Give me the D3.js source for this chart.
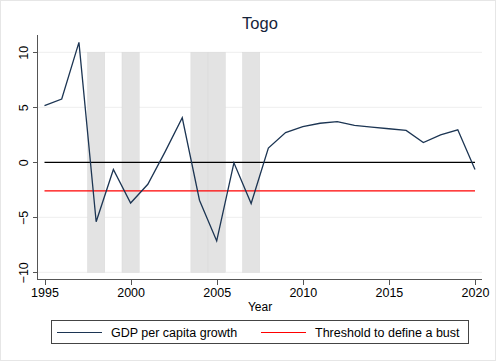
<!DOCTYPE html>
<html>
<head>
<meta charset="utf-8">
<script src="https://cdn.jsdelivr.net/npm/d3@7"></script>
<style>
  body { margin: 0; background: #fff; }
  svg { display: block; font-family: "Liberation Sans", Arial, Helvetica, sans-serif; }
</style>
</head>
<body>
<svg id="chart"></svg>
<script>
(function() {

	// data
	var years = [1995, 1996, 1997, 1998, 1999, 2000, 2001, 2002, 2003, 2004, 2005, 2006, 2007,
		2008, 2009, 2010, 2011, 2012, 2013, 2014, 2015, 2016, 2017, 2018, 2019, 2020];
	var growth = [5.15, 5.75, 10.9, -5.4, -0.65, -3.7, -2.0, 0.95, 4.05, -3.45, -7.15, -0.05, -3.75,
		1.3, 2.7, 3.25, 3.55, 3.7, 3.35, 3.2, 3.05, 2.9, 1.8, 2.5, 2.95, -0.65];
	var threshold = -2.6;
	var bustYears = [1998, 2000, 2004, 2005, 2007];
	var xTicks = [1995, 2000, 2005, 2010, 2015, 2020];
	var yTicks = [-10, -5, 0, 5, 10];

	var W = 496, H = 361;
	var navy = "#1c3553";

	var svg = d3.select("#chart")
		.attr("width", W)
		.attr("height", H);

	// graph region border
	svg.append("rect")
		.attr("x", 0.5).attr("y", 0.5)
		.attr("width", W - 1).attr("height", H - 1)
		.style("fill", "#fff")
		.style("stroke", "#e6e6e6");

	var x = d3.scaleLinear()
		.domain([1995, 2020])
		.range([44.5, 475]);

	var y = d3.scaleLinear()
		.domain([-10, 10])
		.range([272.3, 52.3]);

	var plotLeft = 37, plotRight = 482, plotTop = 35, plotBottom = 279.5;

	// grid lines
	svg.append("g")
		.selectAll("line")
		.data(yTicks.filter(function(d) { return d !== 0; }))
		.enter().append("line")
		.attr("x1", plotLeft).attr("x2", plotRight)
		.attr("y1", function(d) { return y(d); })
		.attr("y2", function(d) { return y(d); })
		.style("stroke", "#eeeeee")
		.style("stroke-width", 1);

	// shaded bust years
	svg.append("g")
		.selectAll("rect")
		.data(bustYears)
		.enter().append("rect")
		.attr("x", function(d) { return x(d - 0.5); })
		.attr("width", function(d) { return x(d + 0.5) - x(d - 0.5); })
		.attr("y", y(10))
		.attr("height", y(-10) - y(10))
		.style("fill", "#e3e3e3")
		.style("stroke", "#dadada")
		.style("stroke-width", 0.5);

	// zero line
	svg.append("line")
		.attr("x1", x(1995)).attr("x2", x(2020))
		.attr("y1", y(0)).attr("y2", y(0))
		.style("stroke", "#000")
		.style("stroke-width", 1.2);

	// threshold
	svg.append("line")
		.attr("x1", x(1995)).attr("x2", x(2020))
		.attr("y1", y(threshold)).attr("y2", y(threshold))
		.style("stroke", "#ff0000")
		.style("stroke-width", 1.2);

	// growth series
	var line = d3.line()
		.x(function(d, i) { return x(years[i]); })
		.y(function(d) { return y(d); });

	svg.append("path")
		.attr("d", line(growth))
		.style("fill", "none")
		.style("stroke", navy)
		.style("stroke-width", 1.3)
		.style("stroke-linejoin", "miter");

	// y axis
	var yAxis = d3.axisLeft(y).tickValues(yTicks).tickSize(4).tickPadding(4);
	var gy = svg.append("g")
		.attr("transform", "translate(" + plotLeft + ",0)")
		.call(yAxis);
	gy.select(".domain").attr("d", "M0," + plotTop + "V" + plotBottom);
	gy.selectAll(".tick text")
		.attr("transform", "rotate(-90)")
		.attr("x", 0)
		.attr("y", -9)
		.attr("dy", 0)
		.style("text-anchor", "middle")
		.style("font-size", "12.5px")
		.style("fill", "#000");

	// x axis
	var xAxis = d3.axisBottom(x).tickValues(xTicks).tickFormat(d3.format("d")).tickSize(5).tickPadding(4);
	var gx = svg.append("g")
		.attr("transform", "translate(0," + plotBottom + ")")
		.call(xAxis);
	gx.select(".domain").attr("d", "M" + plotLeft + ",0H" + plotRight);
	gx.selectAll(".tick text")
		.style("font-size", "12.5px")
		.style("fill", "#000");

	svg.selectAll(".domain, .tick line")
		.style("stroke", "#555")
		.style("stroke-width", 1)
		.style("shape-rendering", "crispEdges");

	// axis title
	svg.append("text")
		.attr("x", 260)
		.attr("y", 311)
		.style("text-anchor", "middle")
		.style("font-size", "12px")
		.style("fill", "#000")
		.text("Year");

	// title
	svg.append("text")
		.attr("x", 260)
		.attr("y", 29)
		.style("text-anchor", "middle")
		.style("font-size", "16.5px")
		.style("fill", "#16243a")
		.text("Togo");

	// legend
	var legend = svg.append("g");
	legend.append("rect")
		.attr("x", 51.5).attr("y", 320.5)
		.attr("width", 417).attr("height", 23)
		.style("fill", "#fff")
		.style("stroke", "#444")
		.style("stroke-width", 1);

	var items = [
		{ label: "GDP per capita growth", color: navy, x0: 57 },
		{ label: "Threshold to define a bust", color: "#ff0000", x0: 261 }
	];

	items.forEach(function(d) {
		legend.append("line")
			.attr("x1", d.x0).attr("x2", d.x0 + 45)
			.attr("y1", 332.5).attr("y2", 332.5)
			.style("stroke", d.color)
			.style("stroke-width", 1.2);
		legend.append("text")
			.attr("x", d.x0 + 54)
			.attr("y", 337)
			.style("font-size", "12.5px")
			.style("fill", "#000")
			.text(d.label);
	});

})();
</script>
</body>
</html>
